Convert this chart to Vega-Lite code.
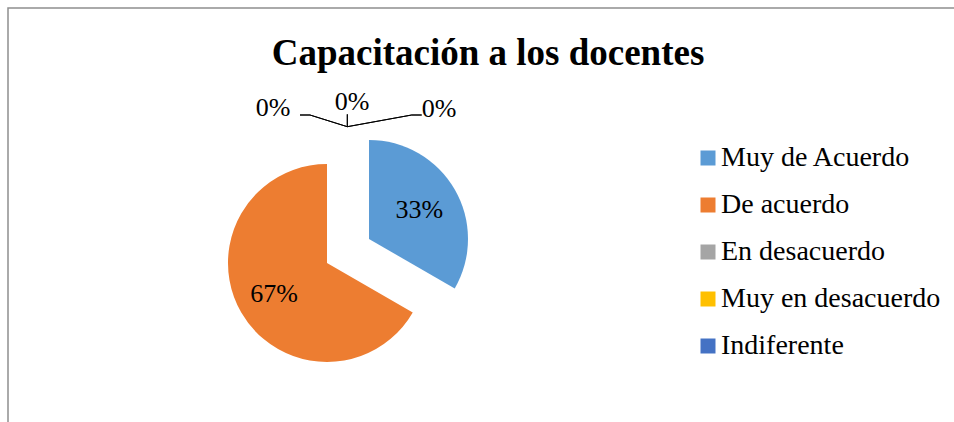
{
  "$schema": "https://vega.github.io/schema/vega-lite/v6.json",
  "width": 946,
  "height": 414,
  "autosize": {"type": "none"},
  "padding": {"left": 8, "top": 8, "right": 0, "bottom": 0},
  "background": "white",
  "view": {"stroke": "#8f8f8f", "strokeWidth": 1.5, "strokeDash": [946, 1360, 414]},
  "config": {"view": {"stroke": "#8f8f8f", "strokeWidth": 1.5, "strokeDash": [946, 1360, 414]}, "font": "Liberation Serif"},
  "title": {"text": "Capacitación a los docentes", "font": "Liberation Serif", "fontSize": 37, "fontWeight": "bold", "color": "black", "anchor": "middle", "frame": "group", "baseline": "alphabetic", "offset": -57, "dx": 7, "dy": 37},
  "data": {"values": [
    {"categoria": "Muy de Acuerdo", "valor": 0.3333, "orden": 1},
    {"categoria": "De acuerdo", "valor": 0.6667, "orden": 2},
    {"categoria": "En desacuerdo", "valor": 0, "orden": 3},
    {"categoria": "Muy en desacuerdo", "valor": 0, "orden": 4},
    {"categoria": "Indiferente", "valor": 0, "orden": 5}
  ]},
  "transform": [{"stack": "valor", "groupby": [], "sort": [{"field": "orden", "order": "ascending"}], "as": ["v0", "v1"]}],
  "layer": [
    {
      "transform": [{"filter": "datum.categoria === 'Muy de Acuerdo'"}],
      "mark": {"type": "arc", "outerRadius": 99, "xOffset": -112, "yOffset": 24},
      "encoding": {
        "theta": {"field": "v0", "type": "quantitative", "scale": {"domain": [0, 1]}},
        "theta2": {"field": "v1"},
        "color": {"field": "categoria", "type": "nominal",
          "scale": {"domain": ["Muy de Acuerdo", "De acuerdo", "En desacuerdo", "Muy en desacuerdo", "Indiferente"], "range": ["#5B9BD5", "#ED7D31", "#A5A5A5", "#FFC000", "#4472C4"]},
          "legend": {"orient": "none", "legendX": 686, "legendY": 136, "title": null, "symbolType": "square", "symbolSize": 225, "symbolStrokeWidth": 0, "symbolOpacity": 1, "labelFont": "Liberation Serif", "labelFontSize": 28, "labelColor": "black", "labelOffset": -1, "rowPadding": 19, "padding": 0, "labelLimit": 400}}
      }
    },
    {
      "transform": [{"filter": "datum.categoria === 'De acuerdo'"}],
      "mark": {"type": "arc", "outerRadius": 99, "xOffset": -154, "yOffset": 48},
      "encoding": {
        "theta": {"field": "v0", "type": "quantitative", "scale": {"domain": [0, 1]}},
        "theta2": {"field": "v1"},
        "color": {"field": "categoria", "type": "nominal",
          "scale": {"domain": ["Muy de Acuerdo", "De acuerdo", "En desacuerdo", "Muy en desacuerdo", "Indiferente"], "range": ["#5B9BD5", "#ED7D31", "#A5A5A5", "#FFC000", "#4472C4"]}}
      }
    },
    {
      "transform": [{"filter": "datum.categoria === 'Muy en desacuerdo'"}],
      "mark": {"type": "arc", "innerRadius": 99.3, "outerRadius": 111.7, "xOffset": -133.7, "yOffset": 11, "fill": "transparent", "stroke": "black", "strokeWidth": 1},
      "encoding": {
        "theta": {"field": "v0", "type": "quantitative", "scale": {"domain": [0, 1]}},
        "theta2": {"field": "v1"}
      }
    },
    {
      "transform": [{"filter": "datum.categoria === 'En desacuerdo'"}],
      "mark": {"type": "arc", "innerRadius": 0, "outerRadius": 39.1, "thetaOffset": -1.267, "theta2Offset": -1.267, "xOffset": -133.7, "yOffset": -88.3, "fill": "transparent", "stroke": "black", "strokeWidth": 1},
      "encoding": {
        "theta": {"field": "v0", "type": "quantitative", "scale": {"domain": [0, 1]}},
        "theta2": {"field": "v1"}
      }
    },
    {
      "transform": [{"filter": "datum.categoria === 'En desacuerdo'"}],
      "mark": {"type": "arc", "innerRadius": 0, "outerRadius": 10, "thetaOffset": -1.5708, "theta2Offset": -1.5708, "xOffset": -171, "yOffset": -100, "fill": "transparent", "stroke": "black", "strokeWidth": 1},
      "encoding": {
        "theta": {"field": "v0", "type": "quantitative", "scale": {"domain": [0, 1]}},
        "theta2": {"field": "v1"}
      }
    },
    {
      "transform": [{"filter": "datum.categoria === 'Indiferente'"}],
      "mark": {"type": "arc", "innerRadius": 0, "outerRadius": 65.5, "thetaOffset": 1.391, "theta2Offset": 1.391, "xOffset": -133.7, "yOffset": -88.3, "fill": "transparent", "stroke": "black", "strokeWidth": 1},
      "encoding": {
        "theta": {"field": "v0", "type": "quantitative", "scale": {"domain": [0, 1]}},
        "theta2": {"field": "v1"}
      }
    },
    {
      "transform": [{"filter": "datum.categoria === 'Indiferente'"}],
      "mark": {"type": "arc", "innerRadius": 0, "outerRadius": 10, "thetaOffset": 1.5708, "theta2Offset": 1.5708, "xOffset": -69.3, "yOffset": -100, "fill": "transparent", "stroke": "black", "strokeWidth": 1},
      "encoding": {
        "theta": {"field": "v0", "type": "quantitative", "scale": {"domain": [0, 1]}},
        "theta2": {"field": "v1"}
      }
    },
    {
      "mark": {"type": "text", "radius": 58, "xOffset": -112, "yOffset": 24, "fontSize": 26, "font": "Liberation Serif", "color": "black"},
      "encoding": {
        "theta": {"field": "valor", "type": "quantitative", "stack": true, "scale": {"domain": [0, 1]}},
        "detail": {"field": "categoria"},
        "order": {"field": "orden"},
        "text": {"condition": {"test": "datum.categoria === 'Muy de Acuerdo'", "field": "valor", "type": "quantitative", "format": ".0%"}, "value": ""}
      }
    },
    {
      "mark": {"type": "text", "radius": 61, "xOffset": -154, "yOffset": 48, "fontSize": 26, "font": "Liberation Serif", "color": "black"},
      "encoding": {
        "theta": {"field": "valor", "type": "quantitative", "stack": true, "scale": {"domain": [0, 1]}},
        "detail": {"field": "categoria"},
        "order": {"field": "orden"},
        "text": {"condition": {"test": "datum.categoria === 'De acuerdo'", "field": "valor", "type": "quantitative", "format": ".0%"}, "value": ""}
      }
    },
    {
      "mark": {"type": "text", "radius": 120, "xOffset": -133, "yOffset": 11, "dx": -75, "dy": 2, "fontSize": 26, "font": "Liberation Serif", "color": "black"},
      "encoding": {
        "theta": {"field": "valor", "type": "quantitative", "stack": true, "scale": {"domain": [0, 1]}},
        "detail": {"field": "categoria"},
        "order": {"field": "orden"},
        "text": {"condition": {"test": "datum.categoria === 'En desacuerdo'", "field": "valor", "type": "quantitative", "format": ".0%"}, "value": ""}
      }
    },
    {
      "mark": {"type": "text", "radius": 120, "xOffset": -133, "yOffset": 11, "dx": 4, "dy": -4, "fontSize": 26, "font": "Liberation Serif", "color": "black"},
      "encoding": {
        "theta": {"field": "valor", "type": "quantitative", "stack": true, "scale": {"domain": [0, 1]}},
        "detail": {"field": "categoria"},
        "order": {"field": "orden"},
        "text": {"condition": {"test": "datum.categoria === 'Muy en desacuerdo'", "field": "valor", "type": "quantitative", "format": ".0%"}, "value": ""}
      }
    },
    {
      "mark": {"type": "text", "radius": 120, "xOffset": -133, "yOffset": 11, "dx": 91, "dy": 3, "fontSize": 26, "font": "Liberation Serif", "color": "black"},
      "encoding": {
        "theta": {"field": "valor", "type": "quantitative", "stack": true, "scale": {"domain": [0, 1]}},
        "detail": {"field": "categoria"},
        "order": {"field": "orden"},
        "text": {"condition": {"test": "datum.categoria === 'Indiferente'", "field": "valor", "type": "quantitative", "format": ".0%"}, "value": ""}
      }
    }
  ]
}
